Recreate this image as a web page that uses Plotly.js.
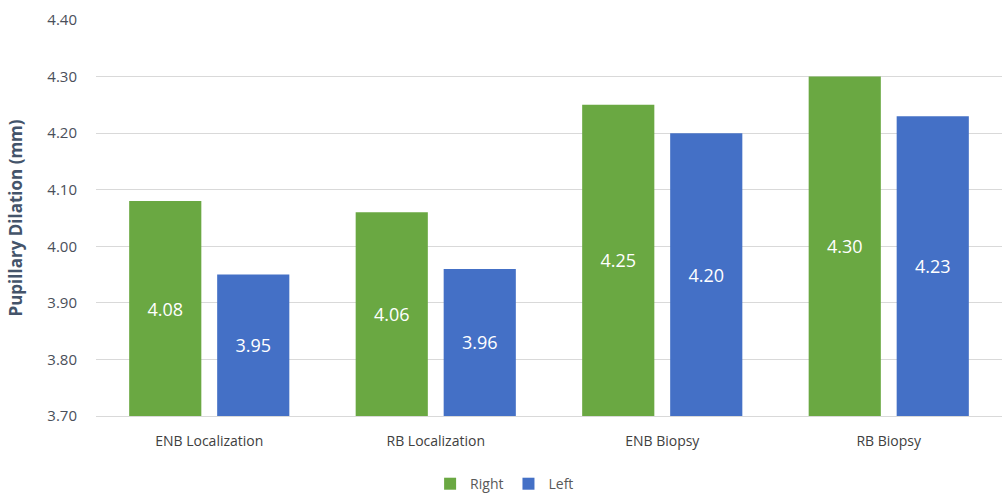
<!DOCTYPE html>
<html>
<head>
<meta charset="utf-8">
<script src="https://cdn.plot.ly/plotly-3.0.1.min.js"></script>
<style>
  html, body { margin: 0; padding: 0; background: #ffffff; }
  #chart { width: 1002px; height: 496px; }
</style>
</head>
<body>
<div id="chart"></div>
<script>
// Pupillary dilation by procedure and eye
const categories = ["ENB Localization", "RB Localization", "ENB Biopsy", "RB Biopsy"];
const rightValues = [4.08, 4.06, 4.25, 4.30];
const leftValues = [3.95, 3.96, 4.20, 4.23];
const yTicks = [3.70, 3.80, 3.90, 4.00, 4.10, 4.20, 4.30, 4.40];
const yMin = 3.70;
const yMax = 4.40;

const FONT = "Open Sans, Noto Sans, sans-serif";

// Bars start at the axis floor so the inside labels sit in the visible part
function barTrace(name, values, color) {
  return {
    type: "bar",
    name: name,
    x: categories,
    base: values.map(() => yMin),
    y: values.map(v => v - yMin),
    marker: { color: color, line: { width: 0 } },
    text: values.map(v => v.toFixed(2)),
    textposition: "inside",
    insidetextanchor: "middle",
    textangle: 0,
    textfont: { family: FONT, size: 18, color: "#ffffff" },
    hoverinfo: "x+text"
  };
}

const data = [
  barTrace("Right", rightValues, "#6aa842"),
  barTrace("Left", leftValues, "#4470c6")
];

const layout = {
  width: 1002,
  height: 496,
  margin: { l: 96, r: 0, t: 20, b: 80, autoexpand: false },
  paper_bgcolor: "#ffffff",
  plot_bgcolor: "#ffffff",
  barmode: "group",
  bargap: 0.223,
  bargroupgap: 0.18,
  font: { family: FONT, color: "#595959" },
  xaxis: {
    type: "category",
    showgrid: false,
    showline: true,
    linecolor: "#d9d9d9",
    linewidth: 1,
    ticks: "",
    tickfont: { family: FONT, size: 14, color: "#404040" },
    ticklabelstandoff: 12
  },
  yaxis: {
    range: [yMin, yMax],
    tickvals: yTicks,
    ticktext: yTicks.map(v => v.toFixed(2)),
    showgrid: true,
    gridcolor: "#d9d9d9",
    gridwidth: 1,
    zeroline: false,
    showline: false,
    ticks: "",
    ticklabelstandoff: 18,
    tickfont: { family: FONT, size: 15, color: "#4a4f5a" },
    title: {
      text: "<b>Pupillary Dilation (mm)</b>",
      font: { family: FONT, size: 17, color: "#44546a" },
      standoff: 20
    }
  },
  showlegend: true,
  legend: {
    orientation: "h",
    x: 0.451,
    xanchor: "center",
    y: -0.172,
    yanchor: "middle",
    font: { family: FONT, size: 14, color: "#595959" },
    itemwidth: 30,
    traceorder: "normal"
  }
};

Plotly.newPlot("chart", data, layout, { displayModeBar: false, staticPlot: true });
</script>
</body>
</html>
